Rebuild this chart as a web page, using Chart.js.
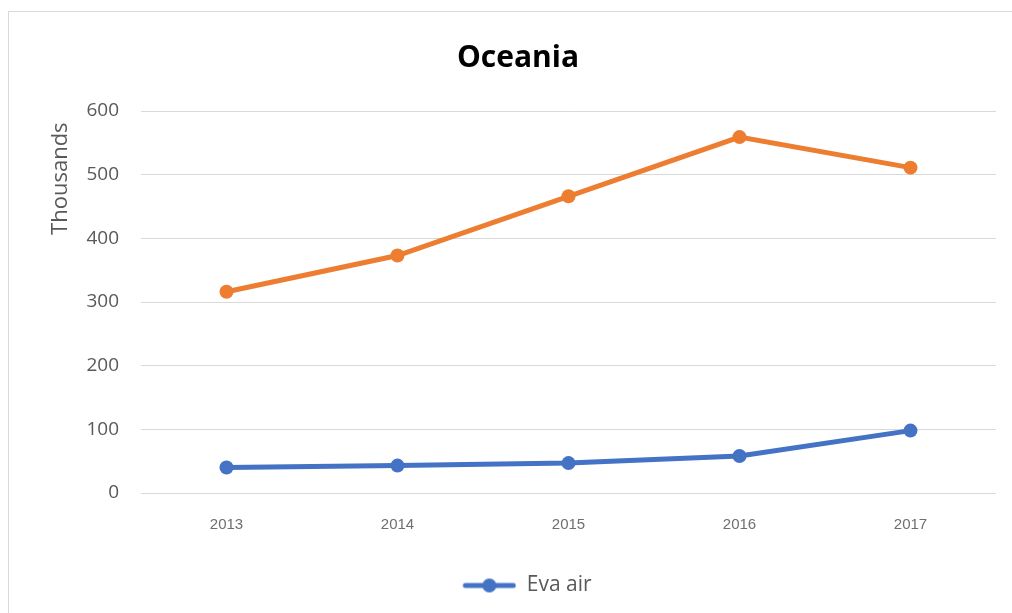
<!DOCTYPE html>
<html>
<head>
<meta charset="utf-8">
<script src="https://cdn.jsdelivr.net/npm/chart.js@4.4.0/dist/chart.umd.min.js"></script>
<style>
  body { margin: 0; background: #fff; }
  #frame { position: absolute; left: 8px; top: 11px; width: 1020px; height: 620px; border: 1px solid #d9d9d9; }
  #wrap { position: absolute; left: 0; top: 0; width: 1012px; height: 613px; }
</style>
</head>
<body>
<div id="frame"></div>
<div id="wrap"><canvas id="chart" width="1012" height="613"></canvas></div>
<script>
// data (thousands)
const years = ["2013", "2014", "2015", "2016", "2017"];
const evaAir = [40, 43, 47, 58, 98];
const otherSeries = [316, 373, 466, 559, 511];
const yTicks = [0, 100, 200, 300, 400, 500, 600];

const blue = "#4472C4";
const orange = "#ED7D31";

// legend marker: line with a dot, like the office style
// (blank strip on the left nudges the legend a bit to the right)
function legendMarker() {
    const c = document.createElement("canvas");
    c.width = 72; c.height = 16;
    const g = c.getContext("2d");
    g.strokeStyle = blue;
    g.lineWidth = 5;
    g.lineCap = "round";
    g.beginPath();
    g.moveTo(21, 8); g.lineTo(69, 8);
    g.stroke();
    g.fillStyle = blue;
    g.beginPath();
    g.arc(45, 8, 7, 0, Math.PI * 2);
    g.fill();
    return c;
}
const marker = legendMarker();

const ctx = document.getElementById("chart").getContext("2d");
new Chart(ctx, {
    type: "line",
    data: {
        labels: years,
        datasets: [{
            label: "Eva air",
            data: evaAir,
            borderColor: blue,
            backgroundColor: blue,
            borderWidth: 5,
            pointRadius: 7,
            pointStyle: "circle",
            pointBorderWidth: 0
        }, {
            label: "Other",
            data: otherSeries,
            borderColor: orange,
            backgroundColor: orange,
            borderWidth: 5,
            pointRadius: 7,
            pointStyle: "circle",
            pointBorderWidth: 0
        }]
    },
    options: {
        responsive: false,
        animation: false,
        layout: { padding: { left: 40, right: 16, top: 0, bottom: 7 } },
        plugins: {
            title: {
                display: true,
                text: "Oceania",
                color: "#000",
                font: { family: "Open Sans", size: 30, weight: "bold" },
                padding: { top: 40, bottom: 35 }
            },
            legend: {
                position: "bottom",
                labels: {
                    usePointStyle: true,
                    pointStyleWidth: 72,
                    boxHeight: 16,
                    generateLabels: (chart) => [{
                        text: "Eva air",
                        pointStyle: marker,
                        fontColor: "#595959",
                        datasetIndex: 0
                    }],
                    color: "#595959",
                    font: { family: "Open Sans", size: 21 },
                    padding: 10
                }
            },
            tooltip: { enabled: false }
        },
        scales: {
            x: {
                offset: true,
                grid: { display: false, drawTicks: false },
                border: { display: false },
                ticks: {
                    color: "#6f6f6f",
                    font: { family: "Liberation Sans", size: 15 },
                    padding: 23
                },
                afterFit: (scale) => { scale.height = 72; }
            },
            y: {
                min: 0,
                max: 600,
                afterBuildTicks: (scale) => { scale.ticks = yTicks.map(v => ({ value: v })); },
                grid: { color: "#d9d9d9", lineWidth: 1, drawTicks: false },
                border: { display: false },
                ticks: {
                    color: "#595959",
                    font: { family: "Open Sans", size: 19 },
                    padding: 22
                },
                title: {
                    display: true,
                    text: "Thousands  ",
                    align: "end",
                    color: "#595959",
                    font: { family: "Open Sans", size: 22 },
                    padding: { top: 8, bottom: 0 }
                },
                afterFit: (scale) => { scale.width = 101; }
            }
        }
    }
});
</script>
</body>
</html>
